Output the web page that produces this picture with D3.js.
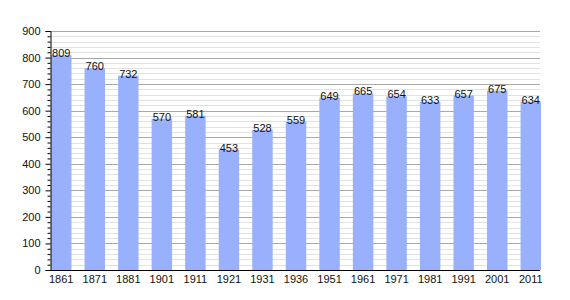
<!DOCTYPE html>
<html><head><meta charset="utf-8">
<script src="https://cdn.jsdelivr.net/npm/d3@7"></script>
<style>body{margin:0;background:#fff}svg{display:block}</style>
</head><body>
<script>
const years = ["1861","1871","1881","1901","1911","1921","1931","1936","1951","1961","1971","1981","1991","2001","2011"];
const population = [809,760,732,570,581,453,528,559,649,665,654,633,657,675,634];
const yTicks = [0,100,200,300,400,500,600,700,800,900];

const W = 570, H = 300;
const m = {left:50, right:30, top:31, bottom:30};
const svg = d3.select("body").append("svg").attr("width",W).attr("height",H);
const font = "Liberation Sans, Arial, sans-serif";

const x = d3.scaleBand().domain(years).range([m.left+1, 541]).paddingInner(0.39).paddingOuter(0);
const y = d3.scaleLinear().domain([0,900]).range([270, 31]);

// minor grid
const minor = d3.range(0, 901, 20).filter(v => v % 100 !== 0);
svg.append("g").selectAll("line").data(minor).join("line")
  .attr("x1", m.left).attr("x2", 540)
  .attr("y1", d => Math.round(y(d))+0.5).attr("y2", d => Math.round(y(d))+0.5)
  .attr("stroke", "#e2e2e2").attr("stroke-width",1);
// major grid
svg.append("g").selectAll("line").data(yTicks.filter(v=>v>0)).join("line")
  .attr("x1", m.left).attr("x2", 540)
  .attr("y1", d => Math.round(y(d))+0.5).attr("y2", d => Math.round(y(d))+0.5)
  .attr("stroke", "#a8a8a8").attr("stroke-width",1);

// bars
svg.append("g").selectAll("rect").data(population).join("rect")
  .attr("x", (d,i) => x(years[i])).attr("width", x.bandwidth())
  .attr("y", d => y(d)).attr("height", d => y(0)-y(d))
  .attr("fill", "#99b1fd");

// value labels
svg.append("g").selectAll("text").data(population).join("text")
  .attr("x", (d,i) => x(years[i]) + x.bandwidth()/2)
  .attr("y", d => y(d)+2)
  .attr("text-anchor","middle")
  .attr("font-family", font).attr("font-size", 11).attr("fill","#111")
  .text(d => d);

// y axis
const yAxis = d3.axisLeft(y).tickValues(yTicks).tickSize(5).tickPadding(5);
const gy = svg.append("g").attr("transform",`translate(${m.left+0.5},0)`).call(yAxis);
gy.select(".domain").attr("stroke","#000");
gy.selectAll(".tick text").attr("font-family",font).attr("font-size",11).attr("fill","#111");
// minor ticks
const yMinor = d3.axisLeft(y).tickValues(minor).tickSize(3).tickFormat("");
const gym = svg.append("g").attr("transform",`translate(${m.left+0.5},0)`).call(yMinor);
gym.select(".domain").remove();

// x axis
const xAxis = d3.axisBottom(x).tickSize(0).tickPadding(5);
const gx = svg.append("g").attr("transform",`translate(0,${270.5})`).call(xAxis);
gx.select(".domain").attr("d", `M${m.left},0H540`).attr("stroke","#000");
gx.selectAll(".tick text").attr("font-family",font).attr("font-size",11).attr("fill","#111");
</script>
</body></html>
